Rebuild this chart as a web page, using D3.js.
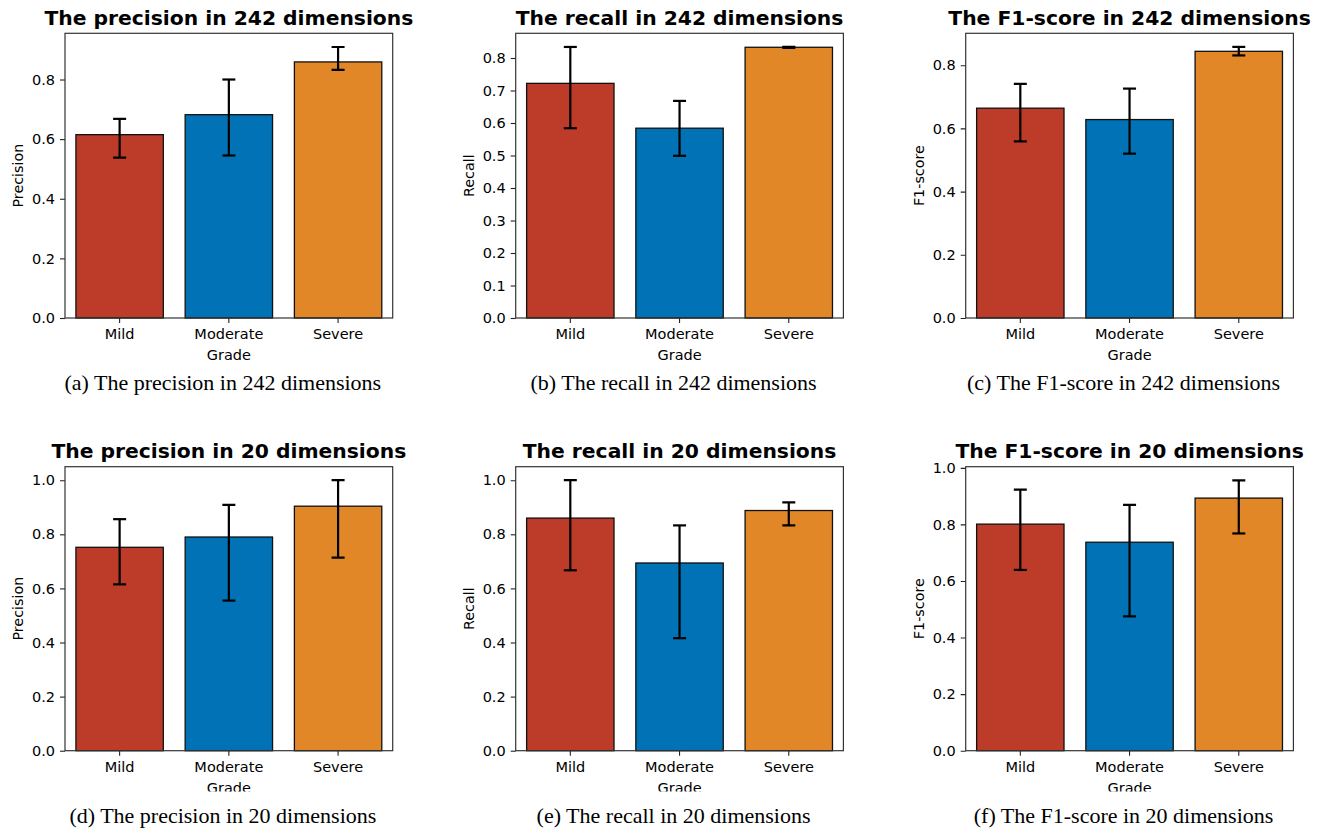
<!DOCTYPE html>
<html>
<head>
<meta charset="utf-8">
<script src="https://cdn.jsdelivr.net/npm/d3@7"></script>
<style>
  body { margin: 0; background: #fff; }
  text { font-family: "DejaVu Sans", sans-serif; fill: #000; }
</style>
</head>
<body>
<script>
// categories and colours (NEJM palette)
var categories = ["Mild", "Moderate", "Severe"];
var colors = ["#BC3C29", "#0072B5", "#E18727"];

// values: mean, lower and upper end of the error bar
var precision242 = [0.615, 0.682, 0.859];
var precision242Lo = [0.538, 0.545, 0.832];
var precision242Hi = [0.668, 0.800, 0.909];

var recall242 = [0.722, 0.584, 0.833];
var recall242Lo = [0.584, 0.499, 0.831];
var recall242Hi = [0.834, 0.668, 0.834];

var f1242 = [0.664, 0.628, 0.844];
var f1242Lo = [0.559, 0.520, 0.831];
var f1242Hi = [0.741, 0.726, 0.858];

var precision20 = [0.752, 0.790, 0.904];
var precision20Lo = [0.615, 0.555, 0.714];
var precision20Hi = [0.856, 0.909, 1.000];

var recall20 = [0.860, 0.694, 0.888];
var recall20Lo = [0.667, 0.416, 0.833];
var recall20Hi = [1.000, 0.833, 0.918];

var f120 = [0.801, 0.737, 0.893];
var f120Lo = [0.639, 0.475, 0.768];
var f120Hi = [0.923, 0.869, 0.956];

// tick labels
var ticks02 = [0, 0.2, 0.4, 0.6, 0.8];
var ticks01 = [0, 0.1, 0.2, 0.3, 0.4, 0.5, 0.6, 0.7, 0.8];
var ticks10 = [0, 0.2, 0.4, 0.6, 0.8, 1.0];

var panels = [
  {title: "The precision in 242 dimensions", ylab: "Precision", cap: "(a) The precision in 242 dimensions",
   v: precision242, lo: precision242Lo, hi: precision242Hi, ticks: ticks02, ymax: 0.955},
  {title: "The recall in 242 dimensions", ylab: "Recall", cap: "(b) The recall in 242 dimensions",
   v: recall242, lo: recall242Lo, hi: recall242Hi, ticks: ticks01, ymax: 0.876},
  {title: "The F1-score in 242 dimensions", ylab: "F1-score", cap: "(c) The F1-score in 242 dimensions",
   v: f1242, lo: f1242Lo, hi: f1242Hi, ticks: ticks02, ymax: 0.901},
  {title: "The precision in 20 dimensions", ylab: "Precision", cap: "(d) The precision in 20 dimensions",
   v: precision20, lo: precision20Lo, hi: precision20Hi, ticks: ticks10, ymax: 1.05},
  {title: "The recall in 20 dimensions", ylab: "Recall", cap: "(e) The recall in 20 dimensions",
   v: recall20, lo: recall20Lo, hi: recall20Hi, ticks: ticks10, ymax: 1.05},
  {title: "The F1-score in 20 dimensions", ylab: "F1-score", cap: "(f) The F1-score in 20 dimensions",
   v: f120, lo: f120Lo, hi: f120Hi, ticks: ticks10, ymax: 1.004}
];

var W = 1321, H = 829;
var colLeft = [65, 515.7, 965.7];
var axW = 327.7;
var rowTop = [33.3, 466.7];
var rowBottom = [318, 750.7];
var rowClip = [410, 791.5];

var svg = d3.select("body").append("svg")
  .attr("width", W)
  .attr("height", H);

panels.forEach(function(p, i) {
  var col = i % 3, row = Math.floor(i / 3);
  var left = colLeft[col], top = rowTop[row], bottom = rowBottom[row];
  var h = bottom - top;

  var clipId = "clip" + i;
  svg.append("clipPath").attr("id", clipId)
    .append("rect")
    .attr("x", left - 70).attr("y", top - 40)
    .attr("width", axW + 130).attr("height", rowClip[row] - (top - 40));

  var g = svg.append("g")
    .attr("clip-path", "url(#" + clipId + ")")
    .append("g")
    .attr("transform", "translate(" + left + "," + top + ")");

  var x = d3.scaleBand().domain(categories).range([0, axW]).paddingInner(0.2).paddingOuter(0.1);
  var y = d3.scaleLinear().domain([0, p.ymax]).range([h, 0]);

  // bars
  g.selectAll("rect.bar")
    .data(categories)
    .enter()
    .append("rect")
    .attr("class", "bar")
    .attr("x", function(d) { return x(d); })
    .attr("width", x.bandwidth())
    .attr("y", function(d, j) { return y(p.v[j]); })
    .attr("height", function(d, j) { return h - y(p.v[j]); })
    .attr("fill", function(d, j) { return colors[j]; })
    .attr("stroke", "#111")
    .attr("stroke-width", 1.3);

  // error bars
  var eb = g.selectAll("g.err")
    .data(categories)
    .enter()
    .append("g")
    .attr("class", "err")
    .attr("stroke", "#000")
    .attr("stroke-width", 2.2);
  eb.append("line")
    .attr("x1", function(d) { return x(d) + x.bandwidth() / 2; })
    .attr("x2", function(d) { return x(d) + x.bandwidth() / 2; })
    .attr("y1", function(d, j) { return y(p.lo[j]); })
    .attr("y2", function(d, j) { return y(p.hi[j]); });
  ["lo", "hi"].forEach(function(k) {
    eb.append("line")
      .attr("x1", function(d) { return x(d) + x.bandwidth() / 2 - 6.5; })
      .attr("x2", function(d) { return x(d) + x.bandwidth() / 2 + 6.5; })
      .attr("y1", function(d, j) { return y(p[k][j]); })
      .attr("y2", function(d, j) { return y(p[k][j]); });
  });

  // axes
  var ya = g.append("g")
    .call(d3.axisLeft(y).tickValues(p.ticks).tickFormat(d3.format(".1f")).tickSize(5).tickPadding(5));
  var xa = g.append("g")
    .attr("transform", "translate(0," + h + ")")
    .call(d3.axisBottom(x).tickSize(5).tickPadding(6));
  [ya, xa].forEach(function(a) {
    a.select(".domain").remove();
    a.selectAll(".tick line").attr("stroke", "#222").attr("stroke-width", 1.1);
    a.selectAll(".tick text").attr("font-size", 14.5).attr("font-family", "DejaVu Sans").attr("fill", "#000");
  });

  // frame
  g.append("rect")
    .attr("width", axW).attr("height", h)
    .attr("fill", "none")
    .attr("stroke", "#333")
    .attr("stroke-width", 1.2);

  // labels
  g.append("text")
    .attr("transform", "translate(-47," + (h / 2) + ") rotate(-90)")
    .attr("text-anchor", "middle")
    .attr("dominant-baseline", "central")
    .attr("font-size", 14.3)
    .text(p.ylab);
  g.append("text")
    .attr("x", axW / 2).attr("y", h + 42)
    .attr("text-anchor", "middle")
    .attr("font-size", 14.5)
    .text("Grade");
  g.append("text")
    .attr("x", axW / 2).attr("y", -8.3)
    .attr("text-anchor", "middle")
    .attr("font-size", 20.3)
    .attr("font-weight", "bold")
    .text(p.title);

  // caption
  svg.append("text")
    .attr("x", left + axW / 2 - 6)
    .attr("y", row === 0 ? 390 : 822.7)
    .attr("text-anchor", "middle")
    .style("font-family", "'Liberation Serif', 'Times New Roman', serif")
    .attr("font-size", 22)
    .text(p.cap);
});
</script>
</body>
</html>
